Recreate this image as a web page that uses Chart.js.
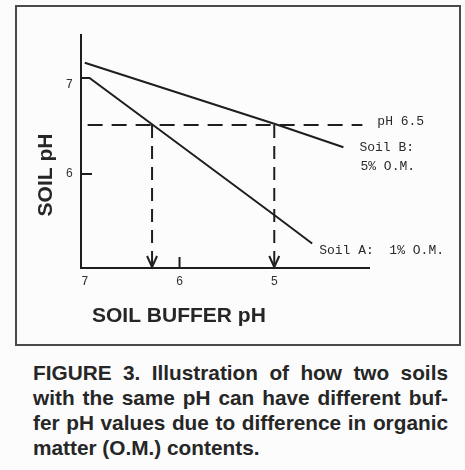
<!DOCTYPE html>
<html>
<head>
<meta charset="utf-8">
<script src="https://cdn.jsdelivr.net/npm/chart.js@4.4.1/dist/chart.umd.min.js"></script>
<style>
  html, body { margin: 0; padding: 0; background: #fcfcfc; }
  body { width: 465px; height: 470px; position: relative; overflow: hidden; }
  #frame { position: absolute; left: 15px; top: 5px; width: 446px; height: 341px; border: 2px solid #4a4a4a; box-sizing: border-box; }
  #chart { position: absolute; left: 0; top: 0; }
  #caption { position: absolute; left: 33px; top: 360px; width: 415px; font: bold 20.8px "Liberation Sans", Arial, sans-serif; line-height: 25px; color: #262626; }
  #caption div { white-space: nowrap; text-align: justify; text-align-last: justify; }
  #caption div.last { text-align-last: left; }
</style>
</head>
<body>
<div id="frame"></div>
<canvas id="chart" width="465" height="330"></canvas>
<div id="caption">
  <div>FIGURE 3. Illustration of how two soils</div>
  <div>with the same pH can have different buf-</div>
  <div>fer pH values due to difference in organic</div>
  <div class="last">matter (O.M.) contents.</div>
</div>
<script>
// values (x = soil buffer pH, y = soil pH)
const soilBBuffer = [7.0, 4.96, 4.27];
const soilBpH = [7.25, 6.55, 6.30];
const soilABuffer = [7.03, 6.95, 6.28, 5.0, 4.60];
const soilApH = [7.08, 7.08, 6.55, 5.54, 5.22];
const targetpH = 6.55;
const targetBuffer = [6.97, 4.07];
const readBuffer = [6.29, 5.0];
const xTicks = [7, 6, 5];
const yTicks = [6, 7];
const notes = ['pH 6.5', 'Soil B:', '5% O.M.', 'Soil A:  1% O.M.'];

const ink = '#1e1e1e';
const pts = (xs, ys) => xs.map((v, i) => ({ x: v, y: Array.isArray(ys) ? ys[i] : ys }));

const lineSet = (data, dash) => ({
  data, showLine: true, borderColor: ink, borderWidth: 2, pointRadius: 0, tension: 0, borderDash: dash || [],
});

const datasets = [
  lineSet(pts(soilBBuffer, soilBpH)),
  lineSet(pts(soilABuffer, soilApH)),
  lineSet(pts(targetBuffer, targetpH), [15, 9]),
  ...readBuffer.map((v) => lineSet([{ x: v, y: targetpH }, { x: v, y: 4.944 }], [13, 8])),
];

const annot = {
  id: 'annot',
  afterDraw(chart) {
    const { ctx, scales: { x, y } } = chart;
    ctx.save();
    ctx.strokeStyle = ink;
    ctx.lineWidth = 2;
    ctx.beginPath();
    // small inward ticks at 6
    ctx.moveTo(x.getPixelForValue(6), y.bottom);
    ctx.lineTo(x.getPixelForValue(6), y.bottom - 11);
    ctx.moveTo(x.left, y.getPixelForValue(6));
    ctx.lineTo(x.left + 11, y.getPixelForValue(6));
    // arrow heads
    readBuffer.forEach((v) => {
      const px = x.getPixelForValue(v);
      ctx.moveTo(px - 5, y.bottom - 12);
      ctx.lineTo(px, y.bottom - 1);
      ctx.lineTo(px + 5, y.bottom - 12);
    });
    ctx.stroke();

    ctx.fillStyle = '#2a2a2a';
    ctx.font = '13px "Liberation Mono", monospace';
    ctx.textBaseline = 'middle';
    ctx.textAlign = 'left';
    const ty = y.getPixelForValue(targetpH);
    ctx.fillText(notes[0], x.getPixelForValue(targetBuffer[1]) + 15, ty - 4);
    const bx = x.getPixelForValue(soilBBuffer[2]), by = y.getPixelForValue(soilBpH[2]);
    ctx.fillText(notes[1], bx + 16, by);
    ctx.fillText(notes[2], bx + 17, by + 19);
    const ax = x.getPixelForValue(soilABuffer[4]), ay = y.getPixelForValue(soilApH[4]);
    ctx.fillText(notes[3], ax + 7, ay + 7);

    // axis titles
    ctx.fillStyle = '#262626';
    ctx.font = 'bold 21px "Liberation Sans", Arial, sans-serif';
    ctx.textBaseline = 'alphabetic';
    ctx.fillText('SOIL BUFFER pH', 92, 322);
    ctx.translate(52, 175);
    ctx.rotate(-Math.PI / 2);
    ctx.textAlign = 'center';
    ctx.fillText('SOIL pH', 0, 0);
    ctx.restore();
  },
};

new Chart(document.getElementById('chart'), {
  type: 'scatter',
  data: { datasets },
  plugins: [annot],
  options: {
    responsive: false,
    animation: false,
    devicePixelRatio: 1,
    layout: { padding: { left: 0, top: 35, right: 96, bottom: 0 } },
    plugins: { legend: { display: false }, tooltip: { enabled: false } },
    scales: {
      x: {
        type: 'linear', reverse: true, min: 4.0, max: 7.04,
        afterBuildTicks: (s) => { s.ticks = xTicks.map((v) => ({ value: v })); },
        afterFit: (s) => { s.height = 62; },
        grid: { display: false, drawTicks: false },
        border: { display: true, color: ink, width: 2 },
        ticks: { padding: 7, color: '#333', font: { family: 'Liberation Mono', size: 12 } },
      },
      y: {
        type: 'linear', min: 4.944, max: 7.562,
        afterBuildTicks: (s) => { s.ticks = yTicks.map((v) => ({ value: v })); },
        afterFit: (s) => { s.width = 81; },
        grid: { display: false, drawTicks: false },
        border: { display: true, color: ink, width: 2 },
        ticks: { padding: 8, color: '#333', font: { family: 'Liberation Mono', size: 12 } },
      },
    },
  },
});
</script>
</body>
</html>
